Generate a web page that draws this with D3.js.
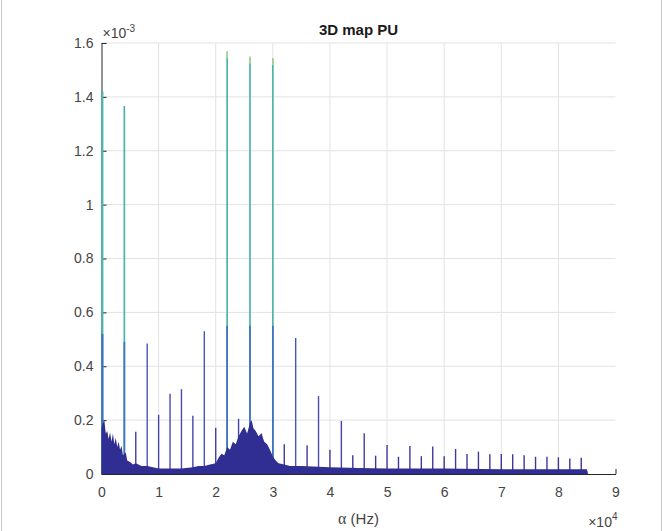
<!DOCTYPE html>
<html>
<head>
<meta charset="utf-8">
<script src="https://cdn.jsdelivr.net/npm/d3@7"></script>
<style>
body { margin: 0; background: #fff; }
svg { display: block; font-family: "Liberation Sans", Arial, sans-serif; }
</style>
</head>
<body>
<svg id="drawing_region"></svg>
<script>
// cyclic frequency alpha (Hz) of the spectral lines and their peak value (x 1e-3)
const spikeAlpha = [0, 4000, 6000, 8000, 10000, 12000, 14000, 16000, 18000, 20000,
  22000, 24000, 26000, 28000, 30000, 32000, 34000, 36000, 38000, 40000,
  42000, 44000, 46000, 48000, 50000, 52000, 54000, 56000, 58000, 60000,
  62000, 64000, 66000, 68000, 70000, 72000, 74000, 76000, 78000, 80000,
  82000, 84000];
const spikeHeight = [1.42, 1.366, 0.157, 0.484, 0.22, 0.298, 0.315, 0.216, 0.53, 0.172,
  1.568, 0.205, 1.549, 0.15, 1.543, 0.11, 0.505, 0.107, 0.289, 0.09,
  0.197, 0.07, 0.151, 0.068, 0.108, 0.064, 0.104, 0.066, 0.102, 0.066,
  0.093, 0.074, 0.083, 0.073, 0.074, 0.073, 0.07, 0.064, 0.064, 0.062,
  0.058, 0.06];
// lower rows of the map seen in front of the tall lines
const tallAlpha = [0, 4000, 22000, 26000, 30000];
const tallFront = [0.52, 0.49, 0.55, 0.55, 0.55];
// noise floor envelope (x 1e-3)
const floorAlpha = [0, 250, 500, 750, 1000, 1250, 1500, 1750, 2000, 2250,
  2500, 2750, 3000, 3250, 3500, 3750, 4250, 4500, 5000, 5500,
  6000, 7000, 8000, 9000, 10000, 12000, 14000, 16000, 17000, 18000,
  19000, 20000, 20500, 21000, 21500, 22000, 22500, 23000, 23500, 24000,
  24500, 25000, 25500, 26000, 26300, 26600, 27000, 27500, 28000, 28500,
  29000, 29500, 30000, 30500, 31000, 32000, 33000, 35000, 40000, 45000,
  50000, 60000, 70000, 80000, 85000, 85200];
const floorLevel = [0.17, 0.19, 0.2, 0.15, 0.16, 0.13, 0.155, 0.12, 0.15, 0.11,
  0.135, 0.1, 0.12, 0.09, 0.105, 0.07, 0.08, 0.05, 0.045, 0.035,
  0.04, 0.03, 0.03, 0.025, 0.02, 0.02, 0.02, 0.025, 0.03, 0.03,
  0.035, 0.04, 0.06, 0.075, 0.07, 0.1, 0.09, 0.12, 0.11, 0.14,
  0.16, 0.175, 0.15, 0.19, 0.2, 0.17, 0.16, 0.14, 0.15, 0.12,
  0.11, 0.09, 0.065, 0.05, 0.04, 0.035, 0.03, 0.03, 0.025, 0.022,
  0.02, 0.02, 0.018, 0.018, 0.018, 0];
const xTicks = [0, 10000, 20000, 30000, 40000, 50000, 60000, 70000, 80000, 90000];
const xTickLabels = ['0', '1', '2', '3', '4', '5', '6', '7', '8', '9'];
const yTicks = [0, 0.2, 0.4, 0.6, 0.8, 1.0, 1.2, 1.4, 1.6];
const yTickLabels = ['0', '0.2', '0.4', '0.6', '0.8', '1', '1.2', '1.4', '1.6'];

class SpectrumChart {
  constructor(config) {
    this.config = config;
    this.init();
  }
  init() {
    let self = this;
    let m = self.config.margin;
    self.svg = d3.select(self.config.parent).attr('width', self.config.width).attr('height', self.config.height);
    self.inner_width = self.config.width - m.left - m.right;
    self.inner_height = self.config.height - m.top - m.bottom;
    self.chart = self.svg.append('g').attr('transform', `translate(${m.left}, ${m.top})`);
    self.xscale = d3.scaleLinear().domain([0, 90000]).range([0, self.inner_width]);
    self.yscale = d3.scaleLinear().domain([0, 1.6]).range([self.inner_height, 0]);
    self.lowColor = d3.scaleLinear().domain([0, 0.12, 0.3, 0.55])
      .range(['#35308f', '#433a9f', '#4a4bb0', '#4358bf']).clamp(true);
    self.render();
  }
  render() {
    let self = this;
    const W = self.config.width, H = self.config.height;
    // figure frame edges
    self.svg.append('line').attr('x1', 1.5).attr('x2', 1.5).attr('y1', 0).attr('y2', H).attr('stroke', '#c8c8c8');
    self.svg.append('line').attr('x1', W - 2.5).attr('x2', W - 2.5).attr('y1', 0).attr('y2', H).attr('stroke', '#c8c8c8');

    // grid
    self.chart.append('g').selectAll('line').data(xTicks.slice(1, -1)).join('line')
      .attr('x1', d => self.xscale(d)).attr('x2', d => self.xscale(d))
      .attr('y1', 0).attr('y2', self.inner_height)
      .attr('stroke', '#e2e2e2');
    self.chart.append('g').selectAll('line').data(yTicks.slice(1)).join('line')
      .attr('x1', 0).attr('x2', self.inner_width)
      .attr('y1', d => self.yscale(d)).attr('y2', d => self.yscale(d))
      .attr('stroke', '#e2e2e2');

    // axes (drawn under the data, the line at alpha = 0 sits on the y axis)
    self.xaxis = d3.axisBottom(self.xscale).tickValues(xTicks).tickFormat((d, i) => xTickLabels[i])
      .tickSizeInner(-5).tickSizeOuter(0).tickPadding(13);
    self.yaxis = d3.axisLeft(self.yscale).tickValues(yTicks).tickFormat((d, i) => yTickLabels[i])
      .tickSizeInner(-5).tickSizeOuter(0).tickPadding(8);
    self.xaxis_group = self.chart.append('g').attr('transform', `translate(0, ${self.inner_height})`).call(self.xaxis);
    self.yaxis_group = self.chart.append('g').call(self.yaxis);
    [self.xaxis_group, self.yaxis_group].forEach(g => {
      g.attr('font-family', null).attr('font-size', 14);
      g.select('.domain').attr('stroke', '#262626');
      g.selectAll('.tick line').attr('stroke', '#262626');
      g.selectAll('.tick text').attr('fill', '#444');
    });

    // tall lines first, so the front rows can be laid over them
    const tall = tallAlpha.map((a, i) => ({a: a, h: spikeHeight[spikeAlpha.indexOf(a)], front: tallFront[i]}));
    const xs = d => self.xscale(d.a) + (d.a === 0 ? 0.8 : 0);
    self.chart.append('g').selectAll('line').data(tall).join('line')
      .attr('x1', xs).attr('x2', xs)
      .attr('y1', self.yscale(0)).attr('y2', d => self.yscale(d.h))
      .attr('stroke', '#4cb4a8').attr('stroke-width', d => d.a === 0 ? 2.2 : 1.7);
    self.chart.append('g').selectAll('line').data(tall).join('line')
      .attr('x1', xs).attr('x2', xs)
      .attr('y1', d => self.yscale(d.h)).attr('y2', d => self.yscale(d.h - 0.025))
      .attr('stroke', '#eae37c').attr('stroke-width', 1.7).attr('opacity', d => d.h > 1.5 ? 0.6 : 0);
    self.chart.append('g').selectAll('line').data(tall).join('line')
      .attr('x1', xs).attr('x2', xs)
      .attr('y1', self.yscale(0)).attr('y2', d => self.yscale(d.front))
      .attr('stroke', '#4170c6').attr('stroke-width', d => d.a === 0 ? 2.2 : 1.7);

    // smaller lines
    const small = spikeAlpha.map((a, i) => ({a: a, h: spikeHeight[i]})).filter(d => tallAlpha.indexOf(d.a) < 0);
    self.chart.append('g').selectAll('line').data(small).join('line')
      .attr('x1', d => self.xscale(d.a)).attr('x2', d => self.xscale(d.a))
      .attr('y1', self.yscale(0)).attr('y2', d => self.yscale(d.h))
      .attr('stroke', d => self.lowColor(d.h)).attr('stroke-width', 1.4);

    // noise floor
    const floor = floorAlpha.map((a, i) => ({a: a, v: floorLevel[i]}));
    const area = d3.area().x(d => self.xscale(d.a)).y0(self.yscale(0)).y1(d => self.yscale(d.v));
    self.chart.append('path').attr('d', area(floor)).attr('fill', '#302d93');

    // exponents
    const ey = self.chart.append('text').attr('x', 1).attr('y', -5).attr('fill', '#444').attr('font-size', 14);
    ey.append('tspan').text('\u00d710');
    ey.append('tspan').attr('font-size', 10).attr('dy', -6).text('-3');
    const ex = self.chart.append('text').attr('x', self.inner_width + 2).attr('y', self.inner_height + 53)
      .attr('text-anchor', 'end').attr('fill', '#444').attr('font-size', 14);
    ex.append('tspan').text('\u00d710');
    ex.append('tspan').attr('font-size', 10).attr('dy', -7).text('4');

    // labels
    const xl = self.chart.append('text').attr('x', self.inner_width / 2).attr('y', self.inner_height + 50)
      .attr('text-anchor', 'middle').attr('fill', '#444').attr('font-size', 15);
    xl.append('tspan').attr('font-family', '"Liberation Serif", serif').attr('font-size', 16).text('\u03b1');
    xl.append('tspan').text(' (Hz)');
    self.chart.append('text').attr('x', self.inner_width / 2).attr('y', -8)
      .attr('text-anchor', 'middle').attr('font-weight', 'bold').attr('font-size', 15)
      .attr('fill', '#1a1a1a').text('3D map PU');
  }
}

var config = {
  parent: '#drawing_region',
  width: 664,
  height: 531,
  margin: {top: 43, right: 48.5, bottom: 57, left: 101.5}
};
const chart = new SpectrumChart(config);
</script>
</body>
</html>
